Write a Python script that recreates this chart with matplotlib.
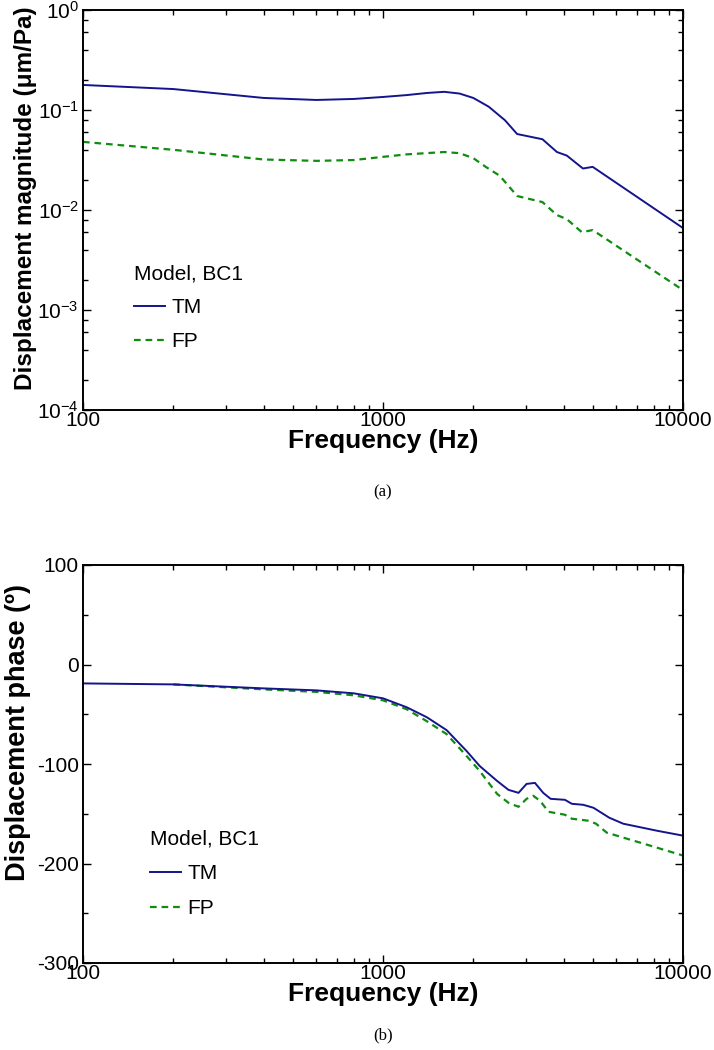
import numpy as np
import matplotlib
matplotlib.use('Agg')
import matplotlib.pyplot as plt
from matplotlib.ticker import LogLocator, MultipleLocator, NullFormatter, FixedLocator, FixedFormatter

plt.rcParams['font.family'] = ['Liberation Sans', 'DejaVu Sans']
plt.rcParams['mathtext.default'] = 'regular'
plt.rcParams['axes.unicode_minus'] = False

# Panel (a): displacement magnitude (um/Pa)
freq_tm_mag = [100, 200, 400, 600, 800, 1000, 1200, 1400, 1600, 1800, 2000, 2250, 2550,
               2800, 3400, 3800, 4100, 4640, 5000, 10000]
tm_mag = [0.178, 0.162, 0.132, 0.126, 0.129, 0.135, 0.141, 0.148, 0.152, 0.146, 0.132, 0.108,
          0.079, 0.0575, 0.051, 0.038, 0.035, 0.026, 0.027, 0.0066]
freq_fp_mag = [100, 200, 400, 600, 800, 1000, 1200, 1600, 1800, 2000, 2200, 2450, 2800, 3400,
               3800, 4100, 4600, 5000, 10000]
fp_mag = [0.048, 0.040, 0.032, 0.031, 0.0316, 0.034, 0.036, 0.038, 0.037, 0.033, 0.027, 0.022,
          0.0138, 0.012, 0.0089, 0.0081, 0.006, 0.0063, 0.00158]

# Panel (b): displacement phase (deg)
freq_tm_ph = [100, 200, 400, 600, 800, 1000, 1200, 1400, 1630, 1900, 2100, 2400, 2620, 2830,
              3010, 3210, 3420, 3620, 4040, 4260, 4650, 5030, 5680, 6320, 8170, 10000]
tm_ph = [-19, -20, -24, -26, -29, -34, -43, -53, -66, -87, -102, -117, -126, -129, -120, -119,
         -129, -135, -136, -140, -141, -144, -154, -160, -167, -172]
freq_fp_ph = [200, 400, 600, 800, 1000, 1200, 1400, 1630, 1900, 2100, 2400, 2620, 2830, 3010,
              3170, 3340, 3560, 4040, 4260, 4830, 5130, 5570, 6490, 8170, 10000]
fp_ph = [-20, -25, -27.5, -31, -36, -45, -57, -70, -92, -107, -130, -139, -143, -135, -132,
         -137, -148, -151, -155, -157, -160, -169, -175, -184, -192]

tm_color = '#14148c'
fp_color = '#108c10'
tick_fs = 15
label_fs = 19

fig = plt.figure(figsize=(7.14, 10.5), dpi=100)
ax1 = fig.add_axes([83/714, 1 - 410/1050, 600/714, 400/1050])
ax2 = fig.add_axes([83/714, 1 - 963/1050, 600/714, 398/1050])


def style_axis(ax):
    ax.set_xscale('log')
    ax.set_xlim(100, 10000)
    ax.xaxis.set_major_locator(FixedLocator([100, 1000, 10000]))
    ax.xaxis.set_major_formatter(FixedFormatter(['100', '1000', '10000']))
    ax.xaxis.set_minor_locator(LogLocator(base=10, subs=np.arange(2, 10)))
    ax.xaxis.set_minor_formatter(NullFormatter())
    ax.tick_params(which='both', direction='in', top=True, right=True, labelsize=tick_fs,
                   width=1.0)
    ax.tick_params(axis='x', pad=1)
    ax.tick_params(axis='y', pad=3)
    ax.tick_params(which='major', length=6)
    ax.tick_params(which='minor', length=3.5)
    for sp in ax.spines.values():
        sp.set_linewidth(1.4)
    ax.set_xlabel('Frequency (Hz)', fontsize=label_fs, fontweight='bold', labelpad=-1)


# (a) magnitude
ax1.plot(freq_fp_mag, fp_mag, color=fp_color, lw=1.6, ls=(0, (3, 2.2)), label='FP')
ax1.plot(freq_tm_mag, tm_mag, color=tm_color, lw=1.4, label='TM')
ax1.set_yscale('log')
ax1.set_ylim(1e-4, 1)
ax1.yaxis.set_major_locator(LogLocator(base=10, numticks=10))
ax1.yaxis.set_minor_locator(LogLocator(base=10, subs=[2, 4, 6, 8], numticks=10))
ax1.yaxis.set_minor_formatter(NullFormatter())
style_axis(ax1)
ax1.set_ylabel('Displacement magnitude (\u03bcm/Pa)', fontsize=17.5, fontweight='bold',
               labelpad=0)
ax1.yaxis.label.set_y(0.53)
h, l = ax1.get_legend_handles_labels()
ax1.legend(h[::-1], l[::-1], title='Model, BC1', loc='upper left', frameon=False,
           bbox_to_anchor=(0.085, 0.365), fontsize=tick_fs, title_fontsize=tick_fs,
           alignment='left', borderpad=0, borderaxespad=0, handlelength=1.5,
           handletextpad=0.3, labelspacing=0.72)

# (b) phase
ax2.plot(freq_fp_ph, fp_ph, color=fp_color, lw=1.6, ls=(0, (3, 2.2)), label='FP')
ax2.plot(freq_tm_ph, tm_ph, color=tm_color, lw=1.4, label='TM')
ax2.set_ylim(-300, 100)
ax2.yaxis.set_major_locator(MultipleLocator(100))
ax2.yaxis.set_minor_locator(MultipleLocator(50))
style_axis(ax2)
ax2.set_ylabel('Displacement phase (\u00ba)', fontsize=19.5, fontweight='bold', labelpad=4)
ax2.yaxis.label.set_y(0.578)
h, l = ax2.get_legend_handles_labels()
ax2.legend(h[::-1], l[::-1], title='Model, BC1', loc='upper left', frameon=False,
           bbox_to_anchor=(0.112, 0.335), fontsize=tick_fs, title_fontsize=tick_fs,
           alignment='left', borderpad=0, borderaxespad=0, handlelength=1.5,
           handletextpad=0.3, labelspacing=0.75)

fig.text(383/714, 1 - 492/1050, '(a)', ha='center', va='center', fontsize=12,
         family='Liberation Serif')
fig.text(383/714, 1 - 1035/1050, '(b)', ha='center', va='center', fontsize=12,
         family='Liberation Serif')

fig.savefig('out.png', dpi=100)
